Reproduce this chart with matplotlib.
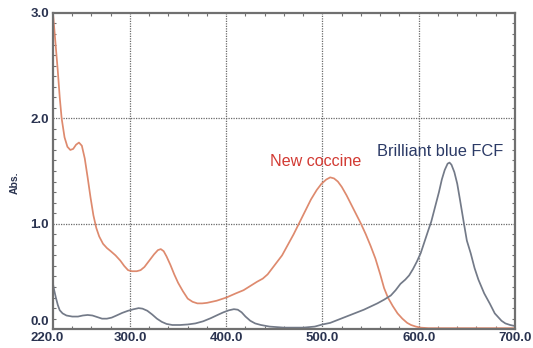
from matplotlib import pyplot as plt
from matplotlib.ticker import MultipleLocator
from matplotlib.transforms import ScaledTranslation

# wavelength (nm) / absorbance
coccine_nm = [220, 222, 225, 227, 229, 232, 235, 238, 241, 244, 247, 250, 253, 256,
              259, 262, 265, 268, 272, 276, 280, 285, 290, 294, 298, 302, 307, 311,
              315, 320, 325, 329, 332, 335, 338, 342, 346, 350, 355, 360, 365, 370,
              375, 380, 390, 400, 410, 418, 425, 432, 438, 443, 448, 453, 458, 464,
              470, 476, 482, 488, 494, 499, 504, 508, 512, 516, 520, 525, 530, 535,
              540, 545, 550, 555, 560, 564, 568, 573, 578, 583, 588, 592, 597, 602,
              610, 650, 700]
coccine_abs = [3.0, 2.78, 2.45, 2.2, 2.0, 1.82, 1.73, 1.70, 1.71, 1.75, 1.77, 1.74,
               1.62, 1.44, 1.25, 1.08, 0.96, 0.88, 0.81, 0.77, 0.74, 0.70, 0.65, 0.60,
               0.56, 0.55, 0.55, 0.56, 0.59, 0.65, 0.71, 0.75, 0.76, 0.74, 0.69, 0.61,
               0.52, 0.44, 0.36, 0.29, 0.26, 0.245, 0.245, 0.25, 0.27, 0.30, 0.34,
               0.37, 0.41, 0.45, 0.48, 0.52, 0.58, 0.64, 0.70, 0.80, 0.90, 1.01, 1.12,
               1.23, 1.32, 1.38, 1.42, 1.44, 1.43, 1.40, 1.35, 1.27, 1.18, 1.09, 1.00,
               0.90, 0.79, 0.67, 0.52, 0.39, 0.30, 0.22, 0.15, 0.10, 0.06, 0.04, 0.025,
               0.015, 0.01, 0.01, 0.01]

fcf_nm = [220, 221, 223, 225, 227, 230, 234, 240, 246, 251, 256, 261, 266, 271, 276,
          281, 286, 292, 298, 304, 309, 313, 318, 323, 328, 333, 338, 344, 352, 360,
          368, 376, 384, 391, 397, 403, 408, 412, 416, 420, 425, 430, 436, 445, 460,
          480, 492, 500, 508, 515, 522, 529, 536, 543, 550, 557, 564, 571, 576, 581,
          586, 590, 594, 598, 602, 606, 610, 613, 617, 621, 624, 627, 630, 632, 634,
          637, 640, 643, 647, 650, 654, 658, 662, 668, 674, 679, 682, 686, 690, 695,
          700]
fcf_abs = [0.43, 0.38, 0.30, 0.23, 0.18, 0.15, 0.13, 0.12, 0.12, 0.13, 0.135, 0.13,
           0.115, 0.10, 0.10, 0.11, 0.13, 0.155, 0.175, 0.19, 0.20, 0.195, 0.175,
           0.14, 0.10, 0.07, 0.05, 0.04, 0.04, 0.045, 0.055, 0.075, 0.105, 0.135,
           0.16, 0.18, 0.19, 0.185, 0.16, 0.12, 0.08, 0.055, 0.04, 0.025, 0.015,
           0.015, 0.025, 0.045, 0.06, 0.085, 0.11, 0.135, 0.16, 0.185, 0.215, 0.245,
           0.28, 0.32, 0.37, 0.43, 0.47, 0.51, 0.57, 0.64, 0.72, 0.83, 0.94, 1.02,
           1.16, 1.30, 1.42, 1.51, 1.57, 1.58, 1.56, 1.49, 1.38, 1.22, 1.00, 0.84,
           0.72, 0.58, 0.47, 0.34, 0.24, 0.15, 0.12, 0.08, 0.055, 0.04, 0.03]

x_ticks = [220, 300, 400, 500, 600, 700]
y_ticks = [0.0, 1.0, 2.0, 3.0]

plt.rcParams['font.family'] = ['Liberation Sans', 'DejaVu Sans']

fig = plt.figure(figsize=(5.33, 3.48), dpi=100)
ax = fig.add_axes([0.0994, 0.054, 0.8668, 0.909])

ax.plot(coccine_nm, coccine_abs, color="#de8a6e", lw=1.25, solid_joinstyle="round")
ax.plot(fcf_nm, fcf_abs, color="#737a88", lw=1.25, solid_joinstyle="round")

ax.set_xlim(220, 700)
ax.set_ylim(0, 3.0)
ax.set_xticks(x_ticks)
ax.set_yticks(y_ticks)
ax.set_xticklabels([f"{v:.1f}" for v in x_ticks])
ax.set_yticklabels([f"{v:.1f}" for v in y_ticks])
ax.xaxis.set_minor_locator(MultipleLocator(20))
ax.yaxis.set_minor_locator(MultipleLocator(0.1))

for v in [300, 400, 500, 600]:
    ax.axvline(v, color="#6a6a6a", lw=0.9, ls=(0, (1, 1)), zorder=0)
for v in [1.0, 2.0]:
    ax.axhline(v, color="#6a6a6a", lw=0.9, ls=(0, (1, 1)), zorder=0)

ax.tick_params(which="both", direction="in", top=True, right=True,
               color="#707070", width=0.8, labelsize=9.5, labelcolor="#2a3350")
ax.tick_params(which="major", length=0)
ax.tick_params(axis="x", which="major", pad=2)
ax.tick_params(axis="y", which="major", pad=3)
ax.tick_params(which="minor", length=2.5)
for lab in ax.get_xticklabels() + ax.get_yticklabels():
    lab.set_fontweight("bold")
# corner labels nudged apart as in the original
ylabs = ax.get_yticklabels()
ylabs[0].set_transform(ylabs[0].get_transform()
                       + ScaledTranslation(0, 6 / 72, fig.dpi_scale_trans))
xlabs = ax.get_xticklabels()
xlabs[0].set_transform(xlabs[0].get_transform()
                       + ScaledTranslation(-4 / 72, 0, fig.dpi_scale_trans))

for s in ax.spines.values():
    s.set_color("#707070")
    s.set_linewidth(1.6)

ax.set_ylabel("Abs.", fontsize=7.5, color="#2a3350", fontweight="bold")
ax.yaxis.set_label_coords(-0.071, 0.462)

ax.text(493, 1.59, "New coccine", color="#d23a33", fontsize=11.6,
        ha="center", va="center")
ax.text(622, 1.69, "Brilliant blue FCF", color="#2b3a66", fontsize=11.8,
        ha="center", va="center")

fig.savefig("out.png", dpi=100)
